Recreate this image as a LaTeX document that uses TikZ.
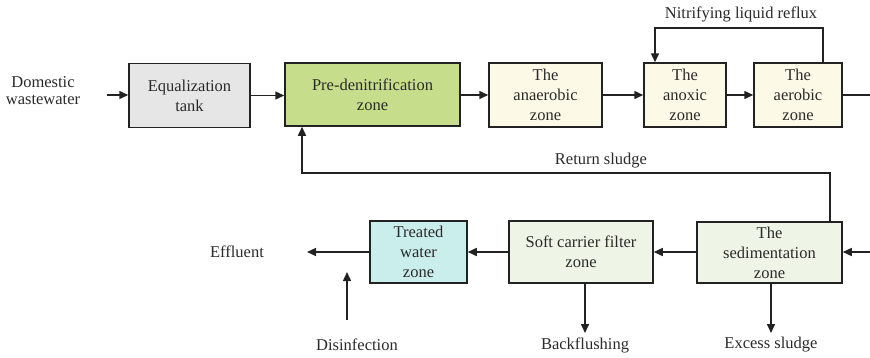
\documentclass[tikz,border=0pt]{standalone}
\usepackage{fontspec}
\setmainfont{Liberation Serif}
\usetikzlibrary{arrows.meta}
\definecolor{txt}{HTML}{2A2A2A}
\definecolor{ln}{HTML}{222222}
\definecolor{eqfill}{HTML}{E6E6E6}
\definecolor{prefill}{HTML}{C6DE8C}
\definecolor{creamfill}{HTML}{FCF9E6}
\definecolor{cyanfill}{HTML}{C9EEEC}
\definecolor{palegreen}{HTML}{EEF5E6}
\tikzset{
  box/.style={draw=ln, line width=1.5pt, align=center, text=txt, inner sep=1pt,
    font=\fontsize{16.5}{20}\selectfont},
  lbl/.style={align=center, text=txt, font=\fontsize{16.5}{17}\selectfont},
  flow/.style={draw=ln, line width=1.5pt, -{Triangle[length=9pt,width=8pt]}},
  plain/.style={draw=ln, line width=1.5pt},
}
\begin{document}
\begin{tikzpicture}[x=1pt,y=-1pt]
\useasboundingbox (0,0) rectangle (870,357);
% top row
\node[box, fill=eqfill, minimum width=121pt, minimum height=64pt] (eq) at (189.5,95.5) {Equalization\\tank};
\node[box, fill=prefill, minimum width=175pt, minimum height=63pt] (pre) at (372.5,94.5) {Pre-denitrification\\zone};
\node[box, fill=creamfill, minimum width=113pt, minimum height=64pt] (ana) at (545.5,95) {The\\anaerobic\\zone};
\node[box, fill=creamfill, minimum width=82pt, minimum height=64pt] (anox) at (685,95) {The\\anoxic\\zone};
\node[box, fill=creamfill, minimum width=88pt, minimum height=64pt] (aer) at (798,95) {The\\aerobic\\zone};
% bottom row
\node[box, fill=palegreen, minimum width=145pt, minimum height=61pt] (sed) at (769.5,252.5) {The\\sedimentation\\zone};
\node[box, fill=palegreen, minimum width=144pt, minimum height=62pt] (soft) at (581,252) {Soft carrier filter\\zone};
\node[box, fill=cyanfill, minimum width=97pt, minimum height=62pt] (treat) at (418.5,252) {Treated\\water\\zone};
% labels
\node[lbl] (dom) at (43,91) {Domestic\\wastewater};
\node[lbl] (nit) at (741,14) {Nitrifying liquid reflux};
\node[lbl] (ret) at (601,161) {Return sludge};
\node[lbl] (eff) at (237,252) {Effluent};
\node[lbl] (dis) at (357,345) {Disinfection};
\node[lbl] (back) at (585,345) {Backflushing};
\node[lbl] (exc) at (771,345) {Excess sludge};
% coordinates
\coordinate (domE) at (107,95);
\coordinate (rightTop) at (870,95);
\coordinate (rightBot) at (870,252);
\coordinate (effE) at (307,252);
\coordinate (disA) at (347,320);
\coordinate (disB) at (347,272);
\coordinate (backS) at (585,333);
\coordinate (excS) at (771,333);
% top flows
\draw[flow] (domE) -- (eq.west |- domE);
\draw[flow] (eq.east) -- (pre.west |- eq.east);
\draw[flow] (pre.east |- ana.west) -- (ana.west);
\draw[flow] (ana.east) -- (anox.west);
\draw[flow] (anox.east) -- (aer.west);
\draw[plain] (aer.east) -- (rightTop);
% reflux
\draw[flow] (aer.north -| 823,0) -- (823,28) -- (655,28) -- (anox.north -| 655,0);
% bottom flows
\draw[flow] (rightBot) -- (sed.east |- rightBot);
\draw[flow] (sed.west |- soft.east) -- (soft.east);
\draw[flow] (soft.west) -- (treat.east);
\draw[flow] (treat.west) -- (effE);
\draw[flow] (disA) -- (disB);
\draw[flow] (soft.south -| backS) -- (backS);
\draw[flow] (sed.south -| excS) -- (excS);
% return sludge
\draw[flow] (sed.north -| 830,0) -- (830,173) -- (302,173) -- (pre.south -| 302,0);
\end{tikzpicture}
\end{document}
